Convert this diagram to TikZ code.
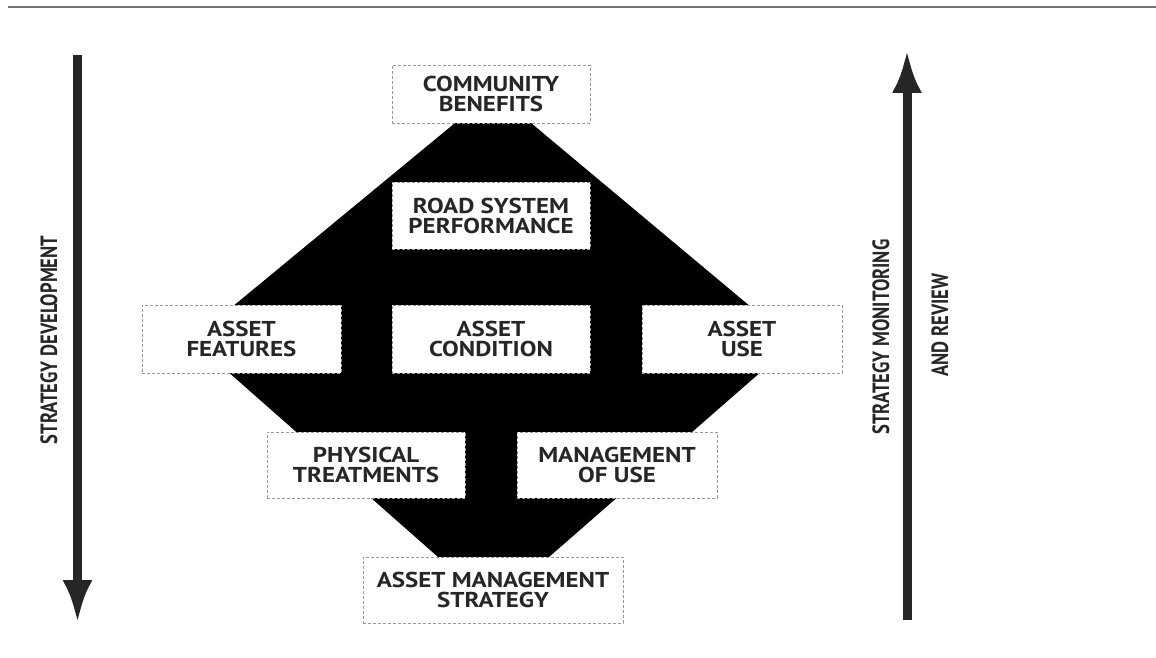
\documentclass[tikz,border=0pt]{standalone}
\usepackage{fontspec}
\newfontfamily\boxfont[FakeStretch=1.16]{PT Sans}
\newfontfamily\sidefont[FakeStretch=0.79]{PT Sans}
\usetikzlibrary{arrows.meta}

\tikzset{
    box/.style={draw=black!40, densely dashed, line width=0.8pt, fill=white,
        text=black!85, align=center, inner sep=0pt,
        font=\boxfont\bfseries\fontsize{21.5}{20}\selectfont},
    sidelabel/.style={rotate=90, text=black!85, inner sep=0pt,
        font=\sidefont\bfseries\fontsize{23.5}{23.5}\selectfont},
    bigarrow/.style={line width=9pt, draw=black!85, -{Latex[length=43pt,width=30pt]}}
}

\begin{document}
\begin{tikzpicture}[x=1pt,y=-1pt]
    \useasboundingbox (0,0) rectangle (1156,658);
    \draw[black!55, line width=2pt] (8,7) -- (1156,7);

    % the black frame behind the boxes
    \fill[black] (455,123) -- (531,123) -- (794,343) -- (549,557) -- (438,557) -- (192,340) -- cycle;

    \foreach \name/\x/\y/\w/\h/\txt in {
        comm/491/94/198/58/{COMMUNITY\\BENEFITS},
        road/491/215.5/198/67/{ROAD SYSTEM\\PERFORMANCE},
        feat/241.5/339/199/68/{ASSET\\FEATURES},
        cond/491/339/198/68/{ASSET\\CONDITION},
        use/742/339/200/68/{ASSET\\USE},
        phys/366/465/198/66/{PHYSICAL\\TREATMENTS},
        mgmt/617/465/200/66/{MANAGEMENT\\OF USE},
        ams/493/590/260/66/{ASSET MANAGEMENT\\STRATEGY}} {
        \node[box, minimum width=\w, minimum height=\h] (\name) at (\x,\y) {\txt};
    }

    \coordinate (devtop) at (77.5,55);
    \coordinate (devbot) at (77.5,623);
    \coordinate (revbot) at (907,620);
    \coordinate (revtop) at (907,50);
    \draw[bigarrow] (devtop) -- (devbot);
    \draw[bigarrow] (revbot) -- (revtop);

    \node[sidelabel] (dev) at (49,340) {STRATEGY DEVELOPMENT};
    \node[sidelabel] (mon) at (881,337) {STRATEGY MONITORING};
    \node[sidelabel] (rev) at (940,325) {AND REVIEW};
\end{tikzpicture}
\end{document}
